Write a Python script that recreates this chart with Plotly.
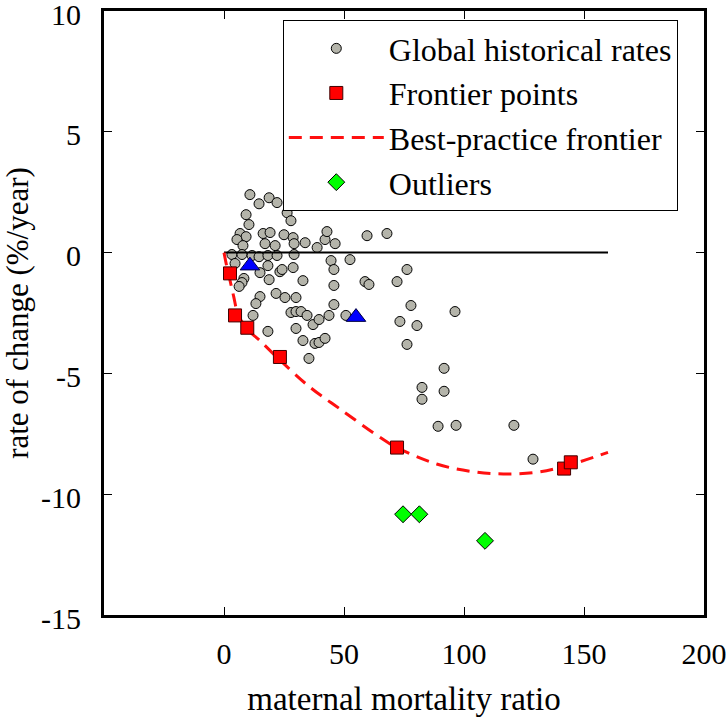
import plotly.graph_objects as go

# ---- data ----
hist_x = [10.8, 14.6, 18.8, 22.1, 26.3, 27.9, 9.2, 10.4, 6.7, 9.2, 5.4, 7.9, 16.3, 19.2, 17.1, 21.3,
          25.0, 28.8, 29.2, 33.8, 38.8, 42.1, 42.9, 46.3, 59.6, 67.9,
          3.3, 7.5, 11.7, 14.6, 18.3, 22.1, 29.2, 4.6, 18.3,
          15.0, 23.3, 24.2, 28.8, 44.6, 52.5, 45.8, 8.3, 7.5, 6.3, 18.8, 32.9, 45.8, 58.75, 60.4,
          72.1, 76.25, 15.0, 13.3, 21.7, 25.4, 30.0, 45.8, 12.1, 27.9, 30.0, 32.1, 34.6, 37.1,
          39.6, 43.75, 50.8, 18.3, 30.0, 32.9, 37.9, 39.6, 42.1, 35.4,
          77.9, 96.25, 73.3, 80.4, 76.25, 91.7, 82.5, 91.7, 82.5, 89.2, 96.7, 120.8, 128.75]
hist_y = [2.40, 2.02, 2.27, 2.07, 1.65, 1.32, 1.57, 1.16, 0.79, 0.66, 0.54, 0.29, 0.79, 0.83, 0.37, 0.29,
          0.74, 0.62, 0.37, 0.41, 0.21, 0.54, 0.87, 0.37, 0.70, 0.79,
          -0.08, -0.08, -0.12, -0.17, -0.12, -0.12, -0.08, -0.45, -0.54,
          -0.83, -0.79, -0.70, -0.62, -0.33, -0.29, -0.70, -1.07, -1.24, -1.40, -1.12, -1.16, -1.36, -1.20, -1.32,
          -1.20, -0.70, -1.82, -2.11, -1.69, -1.86, -1.86, -2.15, -2.60, -2.48, -2.44, -2.44, -2.60, -2.98,
          -2.77, -2.60, -2.60, -3.26, -3.14, -3.64, -3.76, -3.72, -3.55, -4.38,
          -2.19, -2.44, -2.85, -3.02, -3.80, -4.79, -5.58, -5.74, -6.07, -7.19, -7.15, -7.15, -8.55]

frontier_x = [2.5, 4.6, 9.7, 23.3, 72.1, 141.7, 144.5]
frontier_y = [-0.86, -2.60, -3.11, -4.32, -8.07, -8.94, -8.68]

curve_x = [0, 1, 2.5, 4, 6, 10, 15, 23.3, 35.8, 48.3, 63.6, 72.2, 88.6, 102.5, 116.4, 130.3, 142.8, 160]
curve_y = [0, -0.5, -1.15, -1.8, -2.6, -3.2, -3.65, -4.45, -5.57, -6.47, -7.55, -8.08, -8.75, -9.05,
           -9.16, -9.09, -8.82, -8.27]

highlight_x = [10.8, 55.0]
highlight_y = [-0.54, -2.67]

outlier_x = [74.6, 81.4, 108.75]
outlier_y = [-10.83, -10.83, -11.93]

zero_x = [0, 160]
zero_y = [0, 0]

x_ticks = [0, 50, 100, 150, 200]
x_ticktext = ["0", "50", "100", "150", "200"]
y_ticks = [-15, -10, -5, 0, 5, 10]
y_ticktext = ["-15", "-10", "-5", "0", "5", "10"]

FONT = "Liberation Serif"

fig = go.Figure()
fig.add_trace(go.Scatter(
    x=hist_x, y=hist_y, mode="markers", name="Global historical rates", legendrank=1,
    marker=dict(symbol="circle", size=10, color="#b4b4aa", line=dict(color="black", width=1))))
fig.add_trace(go.Scatter(
    x=zero_x, y=zero_y, mode="lines", showlegend=False,
    line=dict(color="black", width=2)))
fig.add_trace(go.Scatter(
    x=curve_x, y=curve_y, mode="lines", name="Best-practice frontier", legendrank=3,
    line=dict(color="#ff1010", width=3, dash="13px,8px", shape="spline")))
fig.add_trace(go.Scatter(
    x=frontier_x, y=frontier_y, mode="markers", name="Frontier points", legendrank=2,
    marker=dict(symbol="square", size=13, color="#ff0000", line=dict(color="#400000", width=1))))
fig.add_trace(go.Scatter(
    x=highlight_x, y=highlight_y, mode="markers", showlegend=False,
    marker=dict(symbol="triangle-up", size=17, color="#0000ff", line=dict(color="#000040", width=1))))
fig.add_trace(go.Scatter(
    x=outlier_x, y=outlier_y, mode="markers", name="Outliers", legendrank=4,
    marker=dict(symbol="diamond", size=13, color="#00ff00", line=dict(color="black", width=1))))

axis_common = dict(
    showgrid=False, zeroline=False, showline=True, linecolor="black", linewidth=3,
    mirror="ticks", ticks="inside", ticklen=8, tickwidth=1, tickcolor="black",
    tickfont=dict(family=FONT, size=30, color="black"), automargin=False,
    ticklabeloverflow="allow",
)

fig.update_layout(
    width=728, height=717,
    margin=dict(l=104, r=24, t=11, b=102),
    plot_bgcolor="white", paper_bgcolor="white",
    font=dict(family=FONT, size=30, color="black"),
    xaxis=dict(range=[-50, 200], tickvals=x_ticks, ticktext=x_ticktext,
               title=dict(text="maternal mortality ratio", font=dict(family=FONT, size=33), standoff=19),
               ticklabelstandoff=10, **axis_common),
    yaxis=dict(range=[-15, 10], tickvals=y_ticks, ticktext=y_ticktext,
               title=dict(text="rate of change (%/year)", font=dict(family=FONT, size=31), standoff=15),
               ticklabelstandoff=14, ticklabelshift=3, **axis_common),
    legend=dict(x=0.298, y=0.985, xanchor="left", yanchor="top",
                bgcolor="white", bordercolor="black", borderwidth=1,
                font=dict(family=FONT, size=32, color="black"), itemwidth=95,
                tracegroupgap=0),
    showlegend=True,
)

fig.write_html("out.html", config={"displayModeBar": False},
               post_script="document.body.style.margin='0';document.body.style.overflow='hidden';")
